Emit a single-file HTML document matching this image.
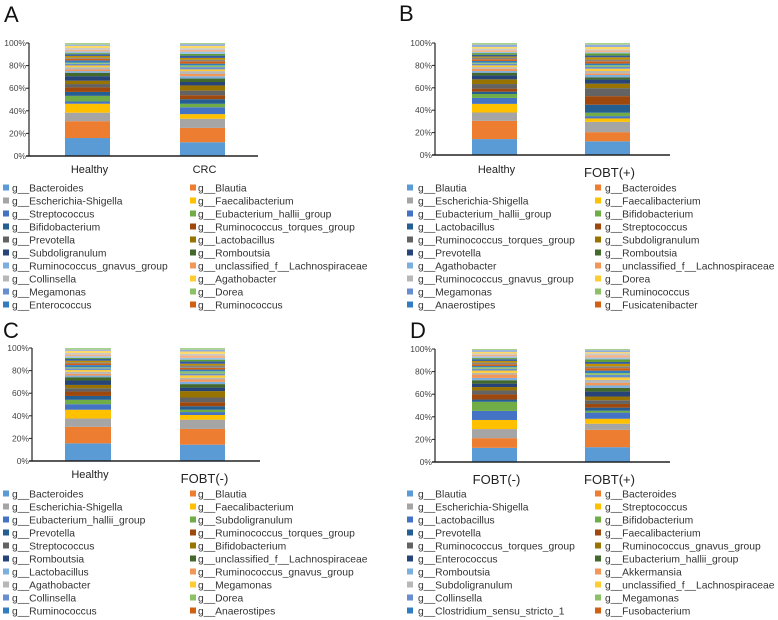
<!DOCTYPE html>
<html><head><meta charset="utf-8"><style>
html,body{margin:0;padding:0;background:#fff;}
svg{display:block;font-family:"Liberation Sans",Arial,sans-serif;}
</style></head><body>
<svg id="fig" width="778" height="620" viewBox="0 0 778 620"></svg>
<script>
const palette=["#5B9BD5","#ED7D31","#A5A5A5","#FFC000","#4472C4","#70AD47","#255E91","#9E480E","#636363","#997300","#264478","#43682B","#7CAFDD","#F1975A","#B7B7B7","#FFCD33","#698ED0","#8CC168","#327DC2","#D26012","#848484","#BF9000","#335AA1","#5E9E37","#9DC3E6","#F4B183","#C9C9C9","#FFD966","#8FAADC","#A9D18E"];
const tickLabels=["0%","20%","40%","60%","80%","100%"];
const tickValues=[0,20,40,60,80,100];

const namesA=["Bacteroides","Blautia","Escherichia-Shigella","Faecalibacterium","Streptococcus","Eubacterium_hallii_group","Bifidobacterium","Ruminococcus_torques_group","Prevotella","Lactobacillus","Subdoligranulum","Romboutsia","Ruminococcus_gnavus_group","unclassified_f__Lachnospiraceae","Collinsella","Agathobacter","Megamonas","Dorea","Enterococcus","Ruminococcus"];
const namesB=["Blautia","Bacteroides","Escherichia-Shigella","Faecalibacterium","Eubacterium_hallii_group","Bifidobacterium","Lactobacillus","Streptococcus","Ruminococcus_torques_group","Subdoligranulum","Prevotella","Romboutsia","Agathobacter","unclassified_f__Lachnospiraceae","Ruminococcus_gnavus_group","Dorea","Megamonas","Ruminococcus","Anaerostipes","Fusicatenibacter"];
const namesC=["Bacteroides","Blautia","Escherichia-Shigella","Faecalibacterium","Eubacterium_hallii_group","Subdoligranulum","Prevotella","Ruminococcus_torques_group","Streptococcus","Bifidobacterium","Romboutsia","unclassified_f__Lachnospiraceae","Lactobacillus","Ruminococcus_gnavus_group","Agathobacter","Megamonas","Collinsella","Dorea","Ruminococcus","Anaerostipes"];
const namesD=["Blautia","Bacteroides","Escherichia-Shigella","Streptococcus","Lactobacillus","Bifidobacterium","Prevotella","Faecalibacterium","Ruminococcus_torques_group","Ruminococcus_gnavus_group","Enterococcus","Eubacterium_hallii_group","Romboutsia","Akkermansia","Subdoligranulum","unclassified_f__Lachnospiraceae","Collinsella","Megamonas","Clostridium_sensu_stricto_1","Fusobacterium"];

const catsA=["Healthy","CRC"];
const catsB=["Healthy","FOBT(+)"];
const catsC=["Healthy","FOBT(-)"];
const catsD=["FOBT(-)","FOBT(+)"];

const valsA1=[16,15,7.5,8,2,5,3.5,4,3,3,4,3,1.5,1.5,2,1.5,1.5,1,2,1.5,1,1.5,1.5,1,1.5,1.5,1.5,2,1,1.5];
const valsA2=[12,12.5,8,4,6,3,4,3.5,4,4.5,3,3,2,2,2.5,1.5,2,1.5,1.5,2,1.5,1.5,2,1.5,2,1.5,1.5,2,1.5,1];
const valsB1=[14.2,16.3,7.4,7.7,5.3,3.5,2.1,2.7,4.1,4.2,3.5,2.4,1.5,2,1.5,1.5,1.5,1,1.5,1.5,1.5,1,1.5,1.5,1,1.5,1.5,1.5,2,1.5];
const valsB2=[12,8,9,3,2,3,7,7.5,7,3.9,3.6,2,2,1.5,2,2,1.5,1.5,1.5,2,1.5,2,1.5,2,1,1.5,1,2,2,1.5];
const valsC1=[16,15,7.5,8,5,4,3.5,4,3,3,4,3,1.5,1.5,2,1.5,1.5,1,2,1.5,1,1.5,1.5,1,1.5,1.5,1.5,2,1,1.5];
const valsC2=[14,13.5,8,4,2.5,2,3,3.5,4,5.5,3,3,2,2,1.5,2,1.5,2,1.5,1.5,2,1.5,2,1.5,1.5,2,1.5,2,1.5,1.5];
const valsD1=[12.5,8.5,8,8,8,8,2,4.5,3.5,3,3,3,2,3,1.5,2,1.5,1.5,1,1.5,1.5,1.5,1.5,1,1.5,1.5,1,1.5,1.5,1];
const valsD2=[12,14,5,4,5,1.5,2.5,3,3,3,4,3,2,2,2.5,2,2,1.5,2,2,1.5,2,1.5,2,1.5,2,1.5,1,1.5,1];

const panels=[
 {letter:"A",lx:4,ly:22,ax:29,top:43,bot:156,xend:258,bars:[[65,110],[180,225]],cats:catsA,vals:[valsA1,valsA2],names:namesA,catY:[173,173],catFs:[11,11],legY:188,sq1:3,tx1:12,sq2:190,tx2:198},
 {letter:"B",lx:399,ly:21,ax:435,top:43,bot:155,xend:670,bars:[[472,517],[585,630]],cats:catsB,vals:[valsB1,valsB2],names:namesB,catY:[173,177],catFs:[11,13],legY:188,sq1:407,tx1:418,sq2:595,tx2:605},
 {letter:"C",lx:3,ly:338,ax:32,top:348,bot:461,xend:260,bars:[[65,111],[180,225]],cats:catsC,vals:[valsC1,valsC2],names:namesC,catY:[478,483],catFs:[11,13],legY:494,sq1:3,tx1:12,sq2:190,tx2:198},
 {letter:"D",lx:410,ly:338,ax:435,top:349,bot:462,xend:670,bars:[[472,517],[585,630]],cats:catsD,vals:[valsD1,valsD2],names:namesD,catY:[484,484],catFs:[13,13],legY:494,sq1:407,tx1:418,sq2:595,tx2:605}
];
const NS="http://www.w3.org/2000/svg";
const svg=document.getElementById('fig');
function mk(tag,attrs,parent){const e=document.createElementNS(NS,tag);for(const k in attrs)e.setAttribute(k,attrs[k]);(parent||svg).appendChild(e);return e;}
panels.forEach(p=>{
 const g=mk('g',{});
 
 
 const yScale=v=>p.bot-(v/100)*(p.bot-p.top);
 const lt=mk('text',{x:p.lx,y:p.ly,'font-size':22,fill:'#111'},g);lt.textContent=p.letter;
 
 
 // bars
 p.vals.forEach((vals,bi)=>{
  const total=vals.reduce((a,b)=>a+b,0);
  let cum=0;
  const bg=mk('g',{},g);
  
  
  vals.forEach((v,i)=>{
   const y0=yScale(cum/total*100);cum+=v;const y1=yScale(cum/total*100);
   const r=mk('rect',{x:p.bars[bi][0],y:y1,width:p.bars[bi][1]-p.bars[bi][0],height:Math.max(0,y0-y1),fill:palette[i%palette.length]},bg);
   
   
  });
  const t=mk('text',{x:(p.bars[bi][0]+p.bars[bi][1])/2+2,y:p.catY[bi],'font-size':p.catFs[bi],'text-anchor':'middle',fill:'#222'},g);
  t.textContent=p.cats[bi];
  
  
 });
 // axes
 const ya=mk('line',{x1:p.ax,y1:p.top,x2:p.ax,y2:p.bot,stroke:'#222','stroke-width':1.2},g);
 
 
 const xa=mk('line',{x1:p.ax-3,y1:p.bot,x2:p.xend,y2:p.bot,stroke:'#222','stroke-width':1.5},g);
 
 
 tickValues.forEach((tv,i)=>{
  const y=yScale(tv);
  mk('line',{x1:p.ax-3,y1:y,x2:p.ax,y2:y,stroke:'#222','stroke-width':1},g);
  const t=mk('text',{x:p.ax-3,y:y+3,'font-size':8.5,'text-anchor':'end',fill:'#444'},g);
  t.textContent=tickLabels[i];
  
  
 });
 // legend
 p.names.forEach((n,i)=>{
  const col=i%2,row=Math.floor(i/2);
  const y=p.legY+row*13;
  const lg=mk('g',{},g);
  
  
  mk('rect',{x:col?p.sq2:p.sq1,y:y-3.5,width:6,height:6,fill:palette[i]},lg);
  const t=mk('text',{x:col?p.tx2:p.tx1,y:y+3.5,'font-size':10.3,fill:'#333'},lg);
  t.textContent='g__'+n;
 });
});
</script>
</body></html>
